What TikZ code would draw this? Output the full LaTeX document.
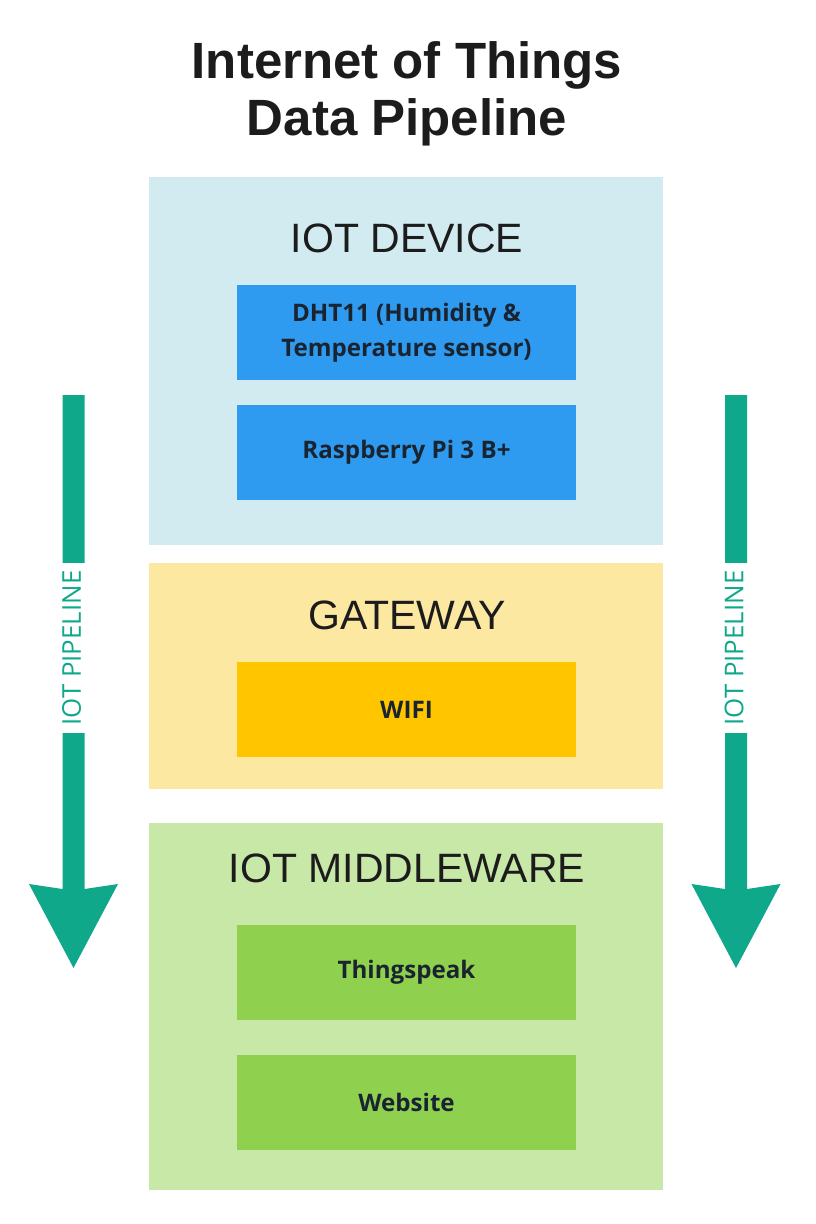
\documentclass[tikz,border=0pt]{standalone}
\usepackage{fontspec}
\setmainfont{Liberation Sans}
\newfontfamily\boxfont{Open Sans}
\definecolor{devicebg}{HTML}{D1EBF1}
\definecolor{sensorblue}{HTML}{2E9BF0}
\definecolor{gatewaybg}{HTML}{FDE8A1}
\definecolor{wifiyellow}{HTML}{FFC600}
\definecolor{middlebg}{HTML}{C8E8A8}
\definecolor{cloudgreen}{HTML}{8FD14F}
\definecolor{pipeteal}{HTML}{0FA88A}
\definecolor{ink}{HTML}{1C1C1C}
\definecolor{boxink}{HTML}{1A2430}
\tikzset{
  panel/.style={minimum width=385.5pt, inner sep=0pt},
  unit/.style={minimum width=254.25pt, minimum height=71.25pt, inner sep=0pt, align=center,
    font=\boxfont\bfseries\fontsize{18.1}{26.25}\selectfont, text=boxink},
  heading/.style={anchor=base, inner sep=0pt, text=ink, font=\fontsize{30.75}{36}\selectfont},
  titleline/.style={anchor=base, inner sep=0pt, text=ink, font=\bfseries\fontsize{38.25}{43}\selectfont},
  pipelabel/.style={rotate=90, fill=white, text=pipeteal, inner xsep=5.6pt, inner ysep=4pt,
    font=\boxfont\fontsize{19.4}{22}\selectfont},
}

\begin{document}
\begin{tikzpicture}[x=0.75pt,y=-0.75pt]
    \useasboundingbox[fill=white] (0,0) rectangle (816,1224);
    % title
    \node[titleline] (title1) at (407,78) {Internet of Things};
    \node[titleline] (title2) at (407,135) {Data Pipeline};
    % layers
    \node[panel, fill=devicebg, minimum height=276pt] (device) at (406,361) {};
    \node[panel, fill=gatewaybg, minimum height=169.5pt] (gateway) at (406,676) {};
    \node[panel, fill=middlebg, minimum height=275.25pt] (middleware) at (406,1006.5) {};
    \node[heading] (deviceHead) at (407,252) {IOT DEVICE};
    \node[heading] (gatewayHead) at (407,629) {GATEWAY};
    \node[heading] (middlewareHead) at (407,882) {IOT MIDDLEWARE};
    % components
    \node[unit, fill=sensorblue] (dht) at (406.5,332.5) {DHT11 (Humidity \&\\Temperature sensor)};
    \node[unit, fill=sensorblue] (rpi) at (406.5,452) {Raspberry Pi 3 B+};
    \node[unit, fill=wifiyellow] (wifi) at (406.5,709.5) {WIFI};
    \node[unit, fill=cloudgreen] (thingspeak) at (406.5,972.5) {Thingspeak};
    \node[unit, fill=cloudgreen] (website) at (406.5,1102.5) {Website};
    % pipeline arrows
    \foreach \ax/\nm in {73.5/left, 736/right} {
        \fill[pipeteal] (\ax-44.5,884) -- (\ax-11,889) -- (\ax-11,395) -- (\ax+11,395)
            -- (\ax+11,889) -- (\ax+44.5,884) -- (\ax,968) -- cycle;
        \node[pipelabel] (pipe\nm) at (\ax-2,648) {IOT PIPELINE};
    }
\end{tikzpicture}
\end{document}
